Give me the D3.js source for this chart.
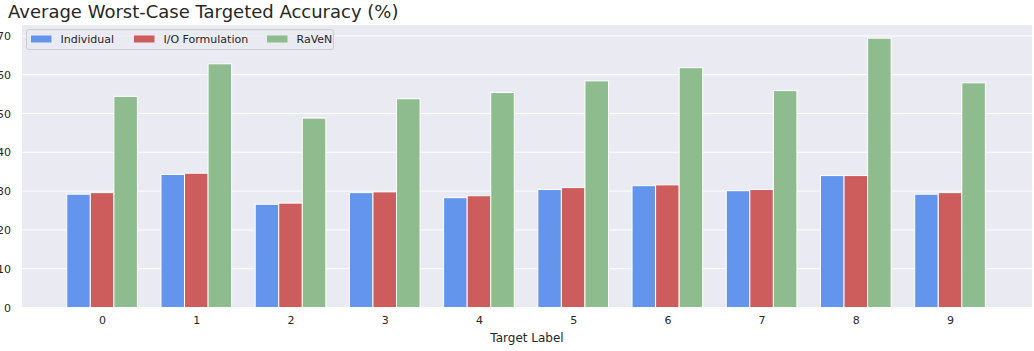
<!DOCTYPE html>
<html>
<head>
<meta charset="utf-8">
<script src="https://cdn.jsdelivr.net/npm/d3@7"></script>
<style>
  body { margin: 0; background: #fff; }
  text { font-family: "DejaVu Sans", sans-serif; fill: #262626; }
</style>
</head>
<body>
<div id="chart"></div>
<script>
var labels = ["0", "1", "2", "3", "4", "5", "6", "7", "8", "9"];
var seriesNames = ["Individual", "I/O Formulation", "RaVeN"];
var individual = [29.2, 34.3, 26.6, 29.6, 28.3, 30.4, 31.4, 30.1, 34.0, 29.2];
var ioFormulation = [29.6, 34.6, 26.9, 29.8, 28.8, 30.9, 31.6, 30.4, 34.0, 29.6];
var raven = [54.4, 62.8, 48.8, 53.8, 55.4, 58.4, 61.8, 55.9, 69.4, 57.9];
var yTicks = [0, 10, 20, 30, 40, 50, 60, 70];

var colors = ["#6495ED", "#CD5C5C", "#8FBC8F"];
var seriesData = [individual, ioFormulation, raven];

var w = 1034, h = 351;
var plotLeft = 22, plotRight = 1032, plotTop = 25, plotBottom = 307.5;

var svg = d3.select("#chart").append("svg")
  .attr("width", w)
  .attr("height", h);

var xScale = d3.scaleLinear()
  .domain([-0.85, 9.87])
  .range([plotLeft, plotRight]);

var yScale = d3.scaleLinear()
  .domain([0, 72.8])
  .range([plotBottom, plotTop]);

// plot background
svg.append("rect")
  .attr("x", plotLeft)
  .attr("y", plotTop)
  .attr("width", plotRight - plotLeft)
  .attr("height", plotBottom - plotTop)
  .attr("fill", "#EAEAF2");

// horizontal grid
svg.selectAll("line.grid")
  .data(yTicks)
  .enter()
  .append("line")
  .attr("class", "grid")
  .attr("x1", plotLeft)
  .attr("x2", plotRight)
  .attr("y1", function(d) { return yScale(d); })
  .attr("y2", function(d) { return yScale(d); })
  .attr("stroke", "#fff")
  .attr("stroke-width", 1);

// bars
var groupWidth = 0.75;
var barW = groupWidth / 3;

seriesData.forEach(function(vals, s) {
  svg.append("g")
    .selectAll("rect")
    .data(vals)
    .enter()
    .append("rect")
    .attr("x", function(d, i) { return xScale(i - groupWidth / 2 + s * barW); })
    .attr("width", xScale(barW) - xScale(0))
    .attr("y", function(d) { return yScale(d); })
    .attr("height", function(d) { return plotBottom - yScale(d); })
    .attr("fill", colors[s])
    .attr("stroke", "#fff")
    .attr("stroke-width", 1);
});

// y axis
var yAxis = d3.axisLeft()
  .scale(yScale)
  .tickValues(yTicks)
  .tickSize(0)
  .tickPadding(0);

var gy = svg.append("g")
  .attr("transform", "translate(11,0)")
  .call(yAxis);
gy.select(".domain").remove();
gy.selectAll("text").attr("font-size", 11).attr("fill", "#262626");

// x axis
var xAxis = d3.axisBottom()
  .scale(xScale)
  .tickValues(d3.range(labels.length))
  .tickFormat(function(d) { return labels[d]; })
  .tickSize(0)
  .tickPadding(9);

var gx = svg.append("g")
  .attr("transform", "translate(0," + plotBottom + ")")
  .call(xAxis);
gx.select(".domain").remove();
gx.selectAll("text").attr("font-size", 11).attr("fill", "#262626");

svg.append("text")
  .attr("x", (plotLeft + plotRight) / 2)
  .attr("y", 342)
  .attr("text-anchor", "middle")
  .attr("font-size", 12)
  .text("Target Label");

// title
svg.append("text")
  .attr("x", 8)
  .attr("y", 18)
  .attr("font-size", 18)
  .text("Average Worst-Case Targeted Accuracy (%)");

// legend
var legend = svg.append("g");
legend.append("rect")
  .attr("x", 26.5)
  .attr("y", 29.5)
  .attr("width", 307)
  .attr("height", 20)
  .attr("rx", 2.5)
  .attr("fill", "#EAEAF2")
  .attr("fill-opacity", 0.8)
  .attr("stroke", "#cccccc")
  .attr("stroke-width", 1);

var legendX = [31, 134, 267];
seriesNames.forEach(function(name, i) {
  legend.append("rect")
    .attr("x", legendX[i])
    .attr("y", 35.5)
    .attr("width", 20.5)
    .attr("height", 7)
    .attr("fill", colors[i]);
  legend.append("text")
    .attr("x", legendX[i] + 29.5)
    .attr("y", 43)
    .attr("font-size", 11)
    .text(name);
});
</script>
</body>
</html>
